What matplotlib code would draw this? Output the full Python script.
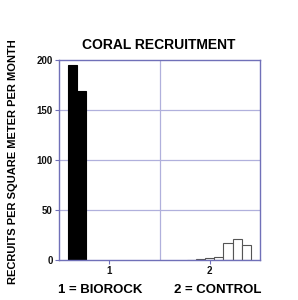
import matplotlib
matplotlib.use("Agg")
import matplotlib.pyplot as plt
import numpy as np

plt.rcParams['font.family'] = ['Liberation Sans', 'DejaVu Sans']

groups = [1, 2]
group_labels = ["1", "2"]
# 9 series (bars) per group
biorock = [195, 169, 0, 0, 0, 0, 0, 0, 0]
control = [0, 0, 0.5, 1.5, 2.5, 3.5, 17, 21, 15]
series = np.array([biorock, control])  # shape (groups, n_series)
yticks = [0, 50, 100, 150, 200]

fig = plt.figure(figsize=(2.98, 3.0), dpi=100)
ax = fig.add_axes([59/298, 1-260/300, 201/298, 200/300])

n = series.shape[1]
gw = 0.82
w = gw / n
frame = '#7070b8'
grid = '#b0b0dc'
for gi, g in enumerate(groups):
    for si in range(n):
        x = g - gw/2 + w*si + w/2
        v = series[gi, si]
        if v <= 0:
            continue
        fc = 'black' if gi == 0 else 'white'
        ax.bar(x, v, width=w, color=fc, edgecolor='#555555' if gi == 1 else 'black', linewidth=0.8, zorder=3)

ax.set_xlim(0.5, 2.5)
ax.set_ylim(0, 200)
ax.set_yticks(yticks)
ax.set_xticks(groups)
ax.set_xticklabels(group_labels)
ax.axvline(1.5, color=grid, lw=0.9, zorder=1)
for y in yticks[1:-1]:
    ax.axhline(y, color=grid, lw=0.9, zorder=1)
for s in ax.spines.values():
    s.set_color(frame)
    s.set_linewidth(1.0)
    s.set_zorder(4)
ax.tick_params(axis='both', colors=frame, length=3, width=0.8, labelsize=7, pad=1.5)
for lab in ax.get_xticklabels() + ax.get_yticklabels():
    lab.set_color('#111111')
    lab.set_fontweight('bold')

fig.text(159/298, 1-45/300, "CORAL RECRUITMENT", ha='center', va='center', fontsize=10, fontweight='bold')
fig.text(13/298, 1-162/300, "RECRUITS PER SQUARE METER PER MONTH", ha='center', va='center',
         rotation=90, fontsize=8.0, fontweight='bold')
fig.text(100/298, 1-290/300, "1 = BIOROCK", ha='center', va='center', fontsize=9.5, fontweight='bold')
fig.text(218/298, 1-290/300, "2 = CONTROL", ha='center', va='center', fontsize=9.5, fontweight='bold')

fig.savefig("out.png", dpi=100)
